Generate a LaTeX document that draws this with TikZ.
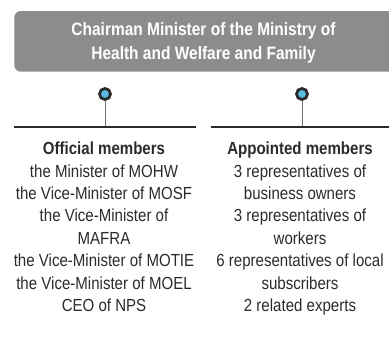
\documentclass[tikz,border=0pt]{standalone}
\usepackage{fontspec}
\setmainfont{Liberation Sans}[FakeStretch=0.86]
\definecolor{boxgray}{HTML}{8C8C8C}
\definecolor{dotblue}{HTML}{5BBDE6}
\definecolor{txt}{HTML}{2B2B2B}
\begin{document}
\begin{tikzpicture}[x=1pt,y=-1pt,
  header/.style={fill=boxgray,rounded corners=6.5pt},
  pin/.style={circle,draw=txt,line width=2.8pt,fill=dotblue,minimum size=11pt,inner sep=0pt},
  stem/.style={draw=gray!90!black,line width=1pt},
  rule/.style={draw=txt,line width=1.4pt},
  members/.style={align=center,text=txt,font=\fontsize{17.5}{22.4}\selectfont,anchor=north}]
\useasboundingbox (0,0) rectangle (389,354);
% title box
\fill[header] (14.3,11) rectangle (400,71.7);
\node[text=white,align=center,font=\bfseries\fontsize{18}{24}\selectfont] (chair) at (203.5,43)
  {Chairman Minister of the Ministry of\\Health and Welfare and Family};
% pins and stems
\node[pin] (pl) at (105,94) {};
\node[pin] (pr) at (302,94) {};
\coordinate (ll) at (14,127);
\coordinate (lr) at (196,127);
\coordinate (rl) at (211,127);
\coordinate (rr) at (389,127);
\coordinate (lm) at (105,127);
\coordinate (rm) at (302,127);
\draw[stem] (pl) -- (lm);
\draw[stem] (pr) -- (rm);
\draw[rule] (ll) -- (lr);
\draw[rule] (rl) -- (rr);
% member lists
\node[members] (official) at (104,138.5)
  {\textbf{Official members}\\the Minister of MOHW\\the Vice-Minister of MOSF\\the Vice-Minister of\\MAFRA\\the Vice-Minister of MOTIE\\the Vice-Minister of MOEL\\CEO of NPS};
\node[members] (appointed) at (300,138.5)
  {\textbf{Appointed members}\\3 representatives of\\business owners\\3 representatives of\\workers\\6 representatives of local\\subscribers\\2 related experts};
\end{tikzpicture}
\end{document}
